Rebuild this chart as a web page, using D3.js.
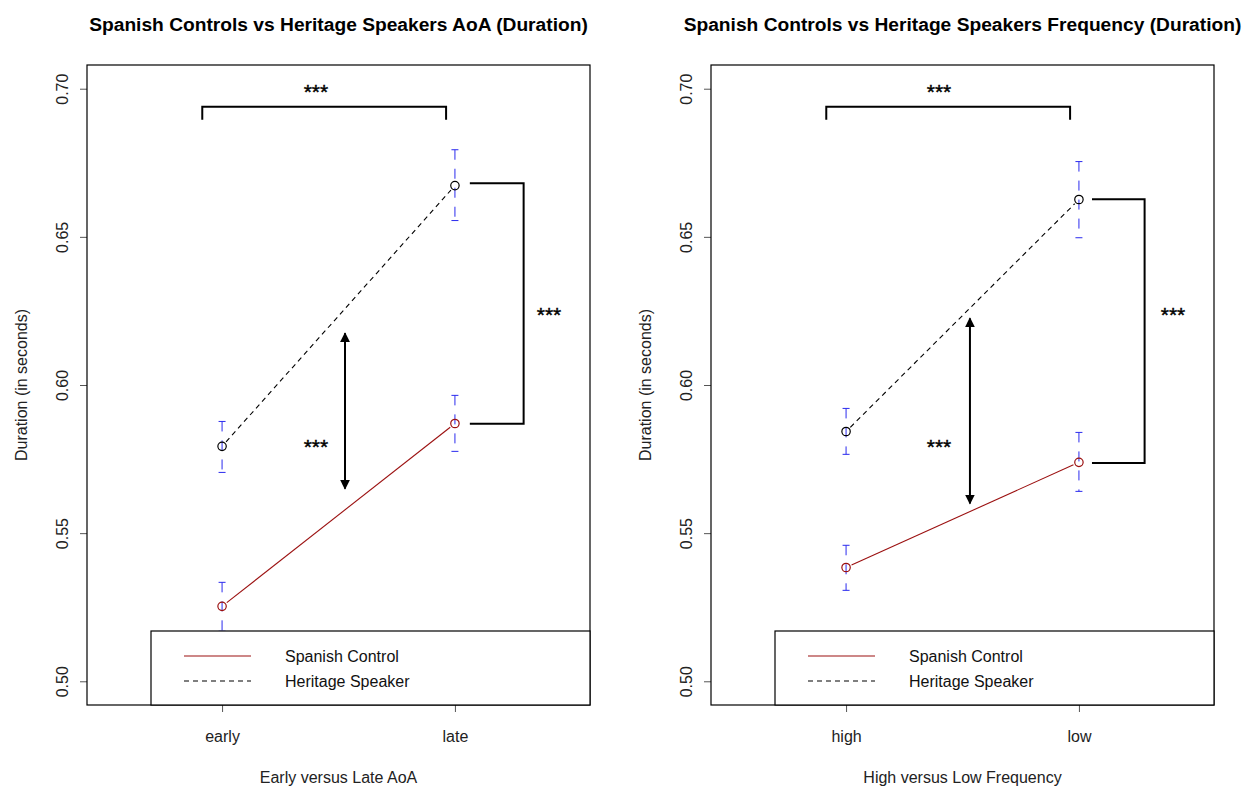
<!DOCTYPE html>
<html>
<head>
<meta charset="utf-8">
<script src="https://cdn.jsdelivr.net/npm/d3@7"></script>
<style>
  body { margin: 0; background: #fff; }
  svg { font-family: "Liberation Sans", Arial, Helvetica, sans-serif; }
</style>
</head>
<body>
<svg id="chart" width="1245" height="786"></svg>
<script>
// values
const yTicks = [0.50, 0.55, 0.60, 0.65, 0.70];
const seriesNames = ['Spanish Control', 'Heritage Speaker'];

const aoaCategories = ['early', 'late'];
const aoaControl = [0.5253, 0.5870];
const aoaControlLow = [0.5169, 0.5776];
const aoaControlHigh = [0.5334, 0.5965];
const aoaHeritage = [0.5793, 0.6673];
const aoaHeritageLow = [0.5705, 0.6555];
const aoaHeritageHigh = [0.5877, 0.6794];

const freqCategories = ['high', 'low'];
const freqControl = [0.5384, 0.5739];
const freqControlLow = [0.5307, 0.5641];
const freqControlHigh = [0.5459, 0.5840];
const freqHeritage = [0.5843, 0.6626];
const freqHeritageLow = [0.5766, 0.6497];
const freqHeritageHigh = [0.5921, 0.6754];

const svg = d3.select('#chart');

// arrowhead for the double arrow
const defs = svg.append('defs');
defs.append('marker')
  .attr('id', 'head')
  .attr('viewBox', '0 0 10 10')
  .attr('refX', 9).attr('refY', 5)
  .attr('markerWidth', 5).attr('markerHeight', 5)
  .attr('markerUnits', 'strokeWidth')
  .attr('orient', 'auto-start-reverse')
  .append('path').attr('d', 'M0,0 L10,5 L0,10 Z').attr('fill', '#000');

function drawPanel(p) {
  const left = p.left, right = p.left + 503, top = 65, bottom = 705;
  const x = d3.scaleLinear().domain([0.42, 2.58]).range([left, right]);
  const y = d3.scaleLinear().domain([0.492, 0.708]).range([bottom, top]);
  const g = svg.append('g');

  // title
  g.append('text')
    .attr('x', (left + right) / 2).attr('y', 31)
    .attr('text-anchor', 'middle')
    .attr('font-weight', 'bold').attr('font-size', 19.2)
    .text(p.title);

  // y axis
  const yAxis = g.append('g').attr('transform', `translate(${left},0)`)
    .call(d3.axisLeft(y).tickValues(yTicks).tickFormat(d3.format('.2f')).tickSize(7).tickSizeOuter(0));
  yAxis.select('.domain').remove();
  yAxis.selectAll('.tick line').attr('stroke', '#555');
  yAxis.selectAll('.tick text')
    .attr('font-size', 16).attr('font-family', null).attr('fill', '#222')
    .attr('x', null).attr('dy', null)
    .attr('text-anchor', 'middle')
    .attr('transform', 'translate(-19,0) rotate(-90)');

  // x axis
  const xAxis = g.append('g').attr('transform', `translate(0,${bottom})`)
    .call(d3.axisBottom(x).tickValues([1, 2]).tickFormat((d, i) => p.categories[i]).tickSize(7).tickSizeOuter(0));
  xAxis.select('.domain').remove();
  xAxis.selectAll('.tick line').attr('stroke', '#555');
  xAxis.selectAll('.tick text')
    .attr('font-size', 16).attr('font-family', null).attr('fill', '#222')
    .attr('y', 37).attr('dy', null);

  g.append('text')
    .attr('transform', `translate(${left - 60},${(top + bottom) / 2}) rotate(-90)`)
    .attr('text-anchor', 'middle').attr('font-size', 16).attr('fill', '#222')
    .text('Duration (in seconds)');
  g.append('text')
    .attr('x', (left + right) / 2).attr('y', 783)
    .attr('text-anchor', 'middle').attr('font-size', 16).attr('fill', '#222')
    .text(p.xTitle);

  // plot frame
  g.append('rect')
    .attr('x', left).attr('y', top).attr('width', right - left).attr('height', bottom - top)
    .attr('fill', 'none').attr('stroke', '#000').attr('stroke-width', 1.2);

  const series = [
    { name: seriesNames[0], vals: p.control, lo: p.controlLow, hi: p.controlHigh, color: '#9b1010', dash: null },
    { name: seriesNames[1], vals: p.heritage, lo: p.heritageLow, hi: p.heritageHigh, color: '#000', dash: '5,4' }
  ];

  series.forEach(s => {
    // error bars
    s.vals.forEach((v, i) => {
      const cx = x(i + 1);
      g.append('line')
        .attr('x1', cx).attr('x2', cx).attr('y1', y(s.hi[i])).attr('y2', y(s.lo[i]))
        .attr('stroke', '#2a2aee').attr('stroke-width', 1).attr('stroke-dasharray', '10,9');
      [s.hi[i], s.lo[i]].forEach(e => {
        g.append('line')
          .attr('x1', cx - 3.5).attr('x2', cx + 3.5).attr('y1', y(e)).attr('y2', y(e))
          .attr('stroke', '#2a2aee').attr('stroke-width', 1);
      });
    });

    // connecting line with gaps around the points
    const x0 = x(1), y0 = y(s.vals[0]), x1 = x(2), y1 = y(s.vals[1]);
    const len = Math.hypot(x1 - x0, y1 - y0), ux = (x1 - x0) / len, uy = (y1 - y0) / len, gap = 6;
    g.append('line')
      .attr('x1', x0 + ux * gap).attr('y1', y0 + uy * gap)
      .attr('x2', x1 - ux * gap).attr('y2', y1 - uy * gap)
      .attr('stroke', s.color).attr('stroke-width', 1.1)
      .attr('stroke-dasharray', s.dash);

    g.selectAll(null).data(s.vals).enter().append('circle')
      .attr('cx', (d, i) => x(i + 1)).attr('cy', d => y(d)).attr('r', 4.2)
      .attr('fill', 'none').attr('stroke', s.color).attr('stroke-width', 1.2);
  });

  // significance annotations
  const a = p.ann;
  const path = (d) => g.append('path').attr('d', d)
    .attr('stroke', '#000').attr('stroke-width', 2).attr('fill', 'none');
  path(`M${x(a.topX[0])},${y(a.topY[1])}V${y(a.topY[0])}H${x(a.topX[1])}V${y(a.topY[1])}`);
  path(`M${x(a.sideX[0])},${y(a.sideY[0])}H${x(a.sideX[1])}V${y(a.sideY[1])}H${x(a.sideX[0])}`);
  path(`M${x(a.arrowX)},${y(a.arrowY[0])}V${y(a.arrowY[1])}`)
    .attr('marker-start', 'url(#head)').attr('marker-end', 'url(#head)');

  // star labels, positioned by the centre of the glyphs
  const fs = 21;
  [a.topLabel, a.sideLabel, a.arrowLabel].forEach(([lx, ly]) => {
    g.append('text').attr('x', x(lx)).attr('y', y(ly) + fs * 0.42)
      .attr('text-anchor', 'middle').attr('font-size', fs)
      .attr('stroke', '#000').attr('stroke-width', 0.4)
      .text('***');
  });

  // legend
  const lx = left + 64, ly = 631;
  const leg = g.append('g');
  leg.append('rect')
    .attr('x', lx).attr('y', ly).attr('width', right - lx).attr('height', bottom - ly)
    .attr('fill', '#fff').attr('stroke', '#000').attr('stroke-width', 1.2);
  series.forEach((s, i) => {
    const yy = ly + 25 + i * 25;
    leg.append('line')
      .attr('x1', lx + 33).attr('x2', lx + 100).attr('y1', yy).attr('y2', yy)
      .attr('stroke', s.color).attr('stroke-width', 1.1).attr('stroke-dasharray', s.dash);
    leg.append('text')
      .attr('x', lx + 134).attr('y', yy + 6)
      .attr('font-size', 16).attr('fill', '#111')
      .text(s.name);
  });
}

drawPanel({
  left: 87,
  title: 'Spanish Controls vs Heritage Speakers AoA (Duration)',
  xTitle: 'Early versus Late AoA',
  categories: aoaCategories,
  control: aoaControl, controlLow: aoaControlLow, controlHigh: aoaControlHigh,
  heritage: aoaHeritage, heritageLow: aoaHeritageLow, heritageHigh: aoaHeritageHigh,
  ann: {
    topX: [0.915, 1.962], topY: [0.6939, 0.6895], topLabel: [1.403, 0.6995],
    sideX: [2.064, 2.295], sideY: [0.6681, 0.5869], sideLabel: [2.404, 0.6243],
    arrowX: 1.528, arrowY: [0.6175, 0.5650], arrowLabel: [1.403, 0.5798]
  }
});

drawPanel({
  left: 711,
  title: 'Spanish Controls vs Heritage Speakers Frequency (Duration)',
  xTitle: 'High versus Low Frequency',
  categories: freqCategories,
  control: freqControl, controlLow: freqControlLow, controlHigh: freqControlHigh,
  heritage: freqHeritage, heritageLow: freqHeritageLow, heritageHigh: freqHeritageHigh,
  ann: {
    topX: [0.915, 1.962], topY: [0.6939, 0.6895], topLabel: [1.399, 0.6995],
    sideX: [2.056, 2.282], sideY: [0.6627, 0.5737], sideLabel: [2.404, 0.6243],
    arrowX: 1.532, arrowY: [0.6225, 0.5600], arrowLabel: [1.399, 0.5798]
  }
});
</script>
</body>
</html>
